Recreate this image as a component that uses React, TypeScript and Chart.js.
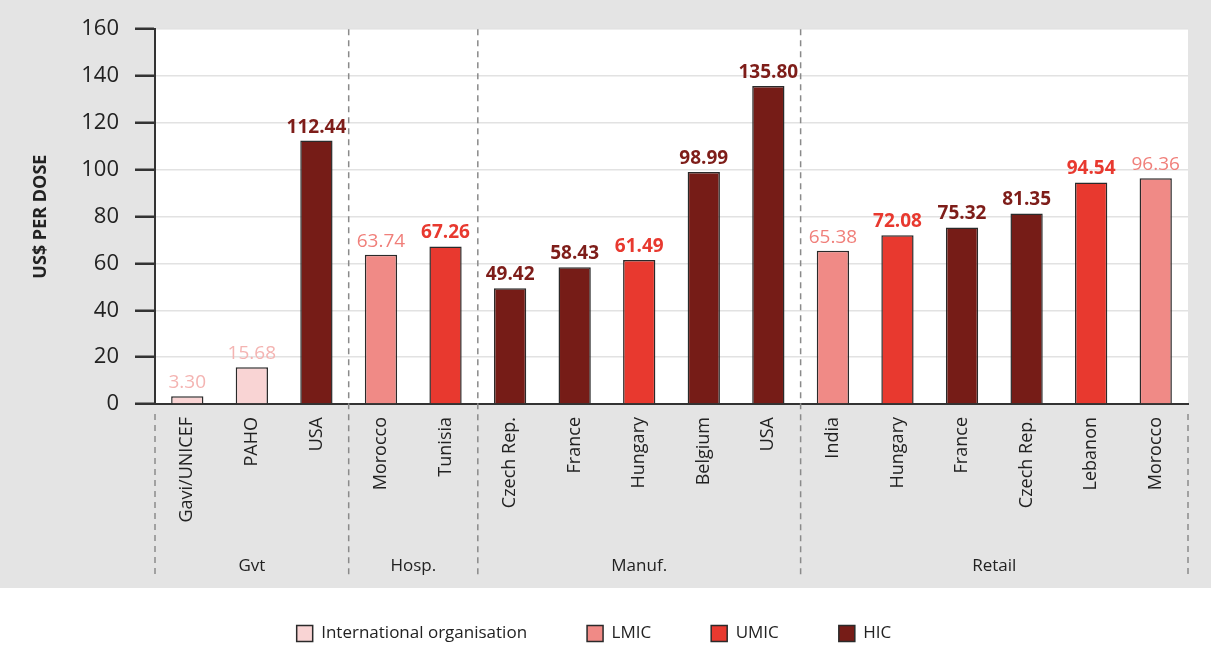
import React, { useEffect, useRef } from "react";
import { Chart, registerables } from "chart.js";

Chart.register(...registerables);

const categories = ["Gavi/UNICEF", "PAHO", "USA", "Morocco", "Tunisia", "Czech Rep.", "France", "Hungary", "Belgium", "USA", "India", "Hungary", "France", "Czech Rep.", "Lebanon", "Morocco"];
const values = [3.30, 15.68, 112.44, 63.74, 67.26, 49.42, 58.43, 61.49, 98.99, 135.80, 65.38, 72.08, 75.32, 81.35, 94.54, 96.36];
const incomeClass = ["INT", "INT", "HIC", "LMIC", "UMIC", "HIC", "HIC", "UMIC", "HIC", "HIC", "LMIC", "UMIC", "HIC", "HIC", "UMIC", "LMIC"];
const groupNames = ["Gvt", "Hosp.", "Manuf.", "Retail"];
const groupSizes = [3, 2, 5, 6];
const classKeys = ["INT", "LMIC", "UMIC", "HIC"];
const classNames = ["International organisation", "LMIC", "UMIC", "HIC"];
const classFill = ["#f9d4d4", "#f08a86", "#e8392f", "#761c17"];
const classLabelColor = ["#f4b4b2", "#f07f7a", "#e8392f", "#7e1d19"];
const classLabelBold = [false, false, true, true];
const yTicks = [0, 20, 40, 60, 80, 100, 120, 140, 160];

const FONT = "'Open Sans', sans-serif";

export default function App() {
  const ref = useRef<HTMLCanvasElement | null>(null);
  useEffect(() => {
    document.body.style.margin = "0";
    const canvas = ref.current!;
    const bgPlugin = {
      id: "bg",
      beforeDraw(chart: any) {
        const { ctx, width, height, chartArea } = chart;
        ctx.save();
        ctx.fillStyle = "#e4e4e4";
        ctx.fillRect(0, 0, width, height);
        ctx.fillStyle = "#ffffff";
        ctx.fillRect(0, 588, width, height - 588);
        ctx.fillRect(chartArea.left, chartArea.top, chartArea.right - chartArea.left, chartArea.bottom - chartArea.top);
        ctx.restore();
      },
    };
    const overlayPlugin = {
      id: "overlay",
      afterDatasetsDraw(chart: any) {
        const { ctx } = chart;
        ctx.save();
        chart.data.datasets.forEach((ds: any, di: number) => {
          const meta = chart.getDatasetMeta(di);
          meta.data.forEach((el: any, i: number) => {
            const v = ds.data[i];
            if (v === null || v === undefined) return;
            ctx.font = `${classLabelBold[di] ? "bold " : ""}19px ${FONT}`;
            ctx.fillStyle = classLabelColor[di];
            ctx.textAlign = "center";
            ctx.textBaseline = "bottom";
            ctx.fillText(v.toFixed(2), el.x, el.y - 4);
          });
        });
        ctx.restore();
      },
      afterDraw(chart: any) {
        const { ctx, chartArea } = chart;
        const xs = chart.scales.x;
        ctx.save();
        ctx.strokeStyle = "#8a8a8a";
        ctx.lineWidth = 1.5;
        ctx.setLineDash([6, 5]);
        const lineBottom = 575;
        let start = 0;
        const bounds: number[] = [];
        groupSizes.forEach((n, gi) => {
          const end = start + n - 1;
          const cx = (xs.getPixelForValue(start) + xs.getPixelForValue(end)) / 2;
          ctx.font = `17px ${FONT}`;
          ctx.fillStyle = "#222";
          ctx.textAlign = "center";
          ctx.textBaseline = "middle";
          ctx.fillText(groupNames[gi], cx, 566);
          if (gi < groupSizes.length - 1) {
            bounds.push((xs.getPixelForValue(end) + xs.getPixelForValue(end + 1)) / 2);
          }
          start += n;
        });
        bounds.forEach((bx) => {
          ctx.beginPath();
          ctx.moveTo(bx, chartArea.top);
          ctx.lineTo(bx, lineBottom);
          ctx.stroke();
        });
        [chartArea.left, chartArea.right].forEach((bx) => {
          ctx.beginPath();
          ctx.moveTo(bx, chartArea.bottom + 10);
          ctx.lineTo(bx, lineBottom);
          ctx.stroke();
        });
        ctx.restore();
      },
    };
    const datasets = classKeys.map((k, ci) => ({
      label: classNames[ci],
      data: values.map((v, i) => (incomeClass[i] === k ? v : null)),
      backgroundColor: classFill[ci],
      borderColor: "#2a2a2a",
      borderWidth: 1.5,
      borderSkipped: "bottom",
      barPercentage: 0.5,
      categoryPercentage: 1,
    }));
    const chart = new Chart(canvas, {
      type: "bar",
      data: { labels: categories, datasets },
      plugins: [bgPlugin, overlayPlugin],
      options: {
        animation: false,
        responsive: false,
        layout: { padding: { top: 26, right: 23, bottom: 14, left: 0 } },
        plugins: {
          tooltip: { enabled: false },
          legend: {
            position: "bottom",
            labels: {
              boxWidth: 16,
              boxHeight: 16,
              padding: 60,
              color: "#222",
              font: { family: FONT, size: 17 },
            },
          },
        },
        scales: {
          x: {
            stacked: true,
            grid: { display: false, drawTicks: false },
            border: { color: "#333", width: 2 },
            ticks: {
              autoSkip: false,
              maxRotation: 90,
              minRotation: 90,
              padding: 13,
              color: "#222",
              font: { family: FONT, size: 18 },
            },
            afterFit(s: any) {
              s.height = 161;
            },
          },
          y: {
            stacked: true,
            min: 0,
            max: 160,
            afterBuildTicks(s: any) {
              s.ticks = yTicks.map((v) => ({ value: v }));
            },
            grid: { color: "#e2e2e2", lineWidth: 1.5, tickColor: "#333", tickLength: 20, tickWidth: 2.5 },
            border: { color: "#333", width: 2 },
            ticks: { padding: 16, color: "#222", font: { family: FONT, size: 22 } },
            title: {
              display: true,
              text: "US$ PER DOSE",
              color: "#222",
              font: { family: FONT, size: 18, weight: "bold" },
              padding: { top: 30, bottom: 0 },
            },
            afterFit(s: any) {
              s.width = 155;
            },
          },
        },
      },
    });
    return () => chart.destroy();
  }, []);
  return (
    <div style={{ width: 1211, height: 666 }}>
      <canvas ref={ref} width={1211} height={666} />
    </div>
  );
}
